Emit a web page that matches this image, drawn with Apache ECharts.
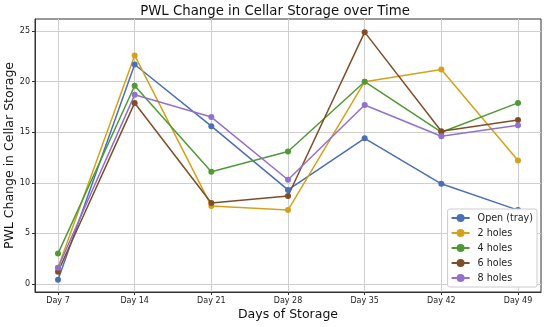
<!DOCTYPE html>
<html><head><meta charset="utf-8">
<script src="https://cdn.jsdelivr.net/npm/echarts@6/dist/echarts.min.js"></script>
<style>html,body{margin:0;padding:0;background:#fff}#c{width:550px;height:327px}</style>
</head><body><div id="c"></div>
<script>
const categories = ['Day 7','Day 14','Day 21','Day 28','Day 35','Day 42','Day 49'];
const seriesNames = ['Open (tray)','2 holes','4 holes','6 holes','8 holes'];
const openTray = [0.4, 21.7, 15.6, 9.3, 14.4, 9.9, 7.3];
const holes2 = [1.6, 22.6, 7.7, 7.3, 20.0, 21.2, 12.2];
const holes4 = [3.0, 19.6, 11.1, 13.1, 20.0, 15.0, 17.9];
const holes6 = [1.2, 17.9, 8.0, 8.7, 24.9, 15.1, 16.2];
const holes8 = [1.6, 18.7, 16.5, 10.3, 17.7, 14.6, 15.7];
const yTicks = [0, 5, 10, 15, 20, 25];
const colors = ['#4a6fb8', '#d4a21a', '#4f9a34', '#7f4e28', '#9370d0'];
const allData = [openTray, holes2, holes4, holes6, holes8];

const font = 'DejaVu Sans';
const chart = echarts.init(document.getElementById('c'), null, {renderer: 'canvas'});
const xIdx = categories.map((_, i) => i);
chart.setOption({
  animation: false,
  color: colors,
  title: {text: 'PWL Change in Cellar Storage over Time', left: 'center', top: 0,
    textStyle: {fontFamily: font, fontSize: 13.3, fontWeight: 'normal', color: '#111'}},
  grid: {left: 35, right: 9, top: 19, bottom: 35, show: true, borderColor: '#333', borderWidth: 1,
    containLabel: false, outerBoundsMode: 'none'},
  legend: {
    orient: 'vertical', right: 13, bottom: 40, data: seriesNames,
    backgroundColor: '#fff', borderColor: '#ccc', borderWidth: 1, borderRadius: 2,
    padding: [4, 4, 4, 3], itemGap: 5, itemWidth: 18, itemHeight: 10,
    textStyle: {fontFamily: font, fontSize: 9.6, color: '#222', padding: [0, 0, 0, 3]}
  },
  xAxis: {
    type: 'value', min: -0.3, max: 6.3,
    name: 'Days of Storage', nameLocation: 'middle', nameGap: 16, nameMoveOverlap: false,
    nameTextStyle: {fontFamily: font, fontSize: 12.5, color: '#111', verticalAlign: 'top'},
    axisLine: {show: true, onZero: false, lineStyle: {color: '#333'}},
    axisTick: {show: true, customValues: xIdx, length: 3, lineStyle: {color: '#333'}},
    axisLabel: {customValues: xIdx, formatter: v => categories[Math.round(v)], fontFamily: font, fontSize: 8, color: '#222', margin: 5},
    splitLine: {show: true, lineStyle: {color: '#cfcfcf', width: 1}}
  },
  yAxis: {
    type: 'value', min: -0.8, max: 26.2,
    name: 'PWL Change in Cellar Storage', nameLocation: 'middle', nameGap: 25, nameMoveOverlap: false,
    nameTextStyle: {fontFamily: font, fontSize: 12.5, color: '#111', verticalAlign: 'middle'},
    axisLine: {show: true, onZero: false, lineStyle: {color: '#333'}},
    axisTick: {show: true, customValues: yTicks, length: 3, lineStyle: {color: '#333'}},
    axisLabel: {customValues: yTicks, fontFamily: font, fontSize: 8, color: '#222', margin: 5},
    splitLine: {show: true, lineStyle: {color: '#cfcfcf', width: 1}}
  },
  series: seriesNames.map((n, k) => ({
    name: n, type: 'line', symbol: 'circle', symbolSize: 6,
    lineStyle: {width: 1.5}, itemStyle: {color: colors[k]},
    data: allData[k].map((v, i) => [xIdx[i], v])
  }))
});
</script></body></html>
